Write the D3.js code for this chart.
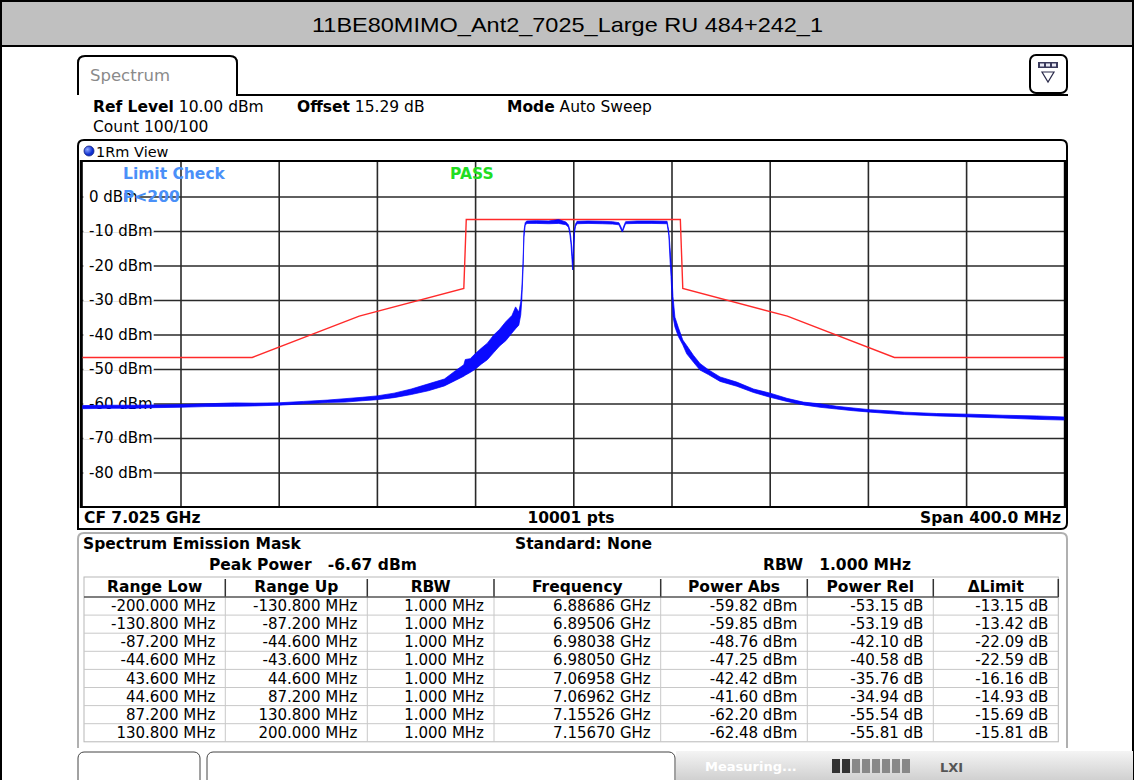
<!DOCTYPE html>
<html>
<head>
<meta charset="utf-8">
<script src="https://cdn.jsdelivr.net/npm/d3@7"></script>
<style>
  html, body { margin: 0; padding: 0; background: #fff; }
  svg { display: block; }
  text { font-family: "DejaVu Sans", Verdana, sans-serif; }
</style>
</head>
<body>
<svg id="chart" width="1134" height="780"></svg>
<script>
// ---- Measurement data ----------------------------------------------------
const title = "11BE80MIMO_Ant2_7025_Large RU 484+242_1";

// y grid labels (dBm)
const levelTicks = [0, -10, -20, -30, -40, -50, -60, -70, -80];
// x grid positions, offset from the 7.025 GHz centre (MHz)
const offsetTicks = [-160, -120, -80, -40, 0, 40, 80, 120, 160];

// emission mask limit line
const limitOffsets = [-200, -130.8, -87.2, -44.6, -43.6, 43.6, 44.6, 87.2, 130.8, 200];
const limitLevels  = [-46.67, -46.67, -34.67, -26.67, -6.67, -6.67, -26.67, -34.67, -46.67, -46.67];

// measured trace (noise envelope, min / max per frequency)
const traceOffsets = [
  -200, -190, -180, -170, -160, -150, -138, -130, -120, -110, -100, -93, -86, -80, -73, -66,
  -59, -52.5, -48, -44.6, -44, -42, -40, -37.5, -35, -32.5, -30, -27.5, -25, -23.5, -22.2,
  -21.4, -21.0, -20.5, -20.1, -19.6, -19.0, -15, -10, -6, -3, -2.0, -1.5, -1.0, -0.6, -0.3,
  0.1, 0.5, 0.9, 1.5, 6, 12, 16, 18.6, 19.4, 20.0, 20.6, 21.3, 26, 32, 38.2, 38.9, 39.4,
  39.8, 40.2, 40.6, 41.4, 42.8, 44.6, 46.2, 48.9, 51.6, 55, 59.8, 66.6, 73.4, 80.2, 87,
  93.7, 100.5, 107.3, 114, 121, 130.3, 135, 148, 161.6, 175, 188.8, 200
];
const traceLow = [
  -61.5, -61.4, -61.4, -61.2, -61.1, -60.9, -60.8, -60.7, -60.5, -60.1, -59.7, -59.6, -59.2, -58.9, -58.3, -57.4,
  -56.3, -54.9, -53.3, -52.1, -51.8, -51.0, -50.1, -48.6, -47.3, -45.3, -43.3, -41.8, -39.6, -38.3, -37.3,
  -34.3, -30.3, -21.8, -11.8, -8.4, -7.8, -7.8, -7.9, -7.8, -8.2, -8.9, -10.4, -13.4, -17.4, -21.3,
  -16.3, -10.6, -8.7, -7.9, -7.8, -7.9, -8.0, -8.2, -9.5, -10.3, -9.2, -7.9, -7.8, -7.8, -7.9, -11.3, -18.4,
  -23.2, -29.0, -34.8, -37.8, -40.6, -43.0, -45.6, -48.0, -50.3, -51.6, -53.6, -55.0, -56.8, -58.2, -59.4,
  -60.4, -61.1, -61.6, -62.1, -62.5, -63.0, -63.2, -63.6, -63.9, -64.2, -64.6, -64.8
];
const traceHigh = [
  -60.6, -60.5, -60.5, -60.4, -60.3, -60.1, -59.82, -59.9, -59.8, -59.4, -59.0, -58.6, -58.2, -57.8, -57.0, -55.8,
  -54.3, -52.9, -50.5, -48.76, -47.25, -47.0, -45.6, -44.0, -42.5, -40.2, -38.5, -36.3, -34.5, -32.0, -33.5,
  -30.5, -27.0, -19.5, -10.0, -7.6, -7.1, -7.0, -7.1, -6.67, -7.4, -8.2, -9.4, -11.8, -15.0, -18.8,
  -13.5, -9.3, -8.0, -7.2, -7.1, -7.2, -7.3, -7.6, -8.8, -9.8, -8.5, -7.3, -7.1, -7.1, -7.2, -10.0, -14.7,
  -18.6, -23.4, -29.0, -35.0, -38.0, -41.6, -43.2, -46.0, -48.4, -50.2, -52.3, -53.8, -55.8, -57.0, -58.5,
  -59.6, -60.1, -60.8, -61.3, -61.8, -62.2, -62.5, -62.9, -63.1, -63.4, -63.6, -63.9
];

// result table
const tableHeaders = ["Range Low", "Range Up", "RBW", "Frequency", "Power Abs", "Power Rel", "\u0394Limit"];
const rangeLow   = ["-200.000 MHz", "-130.800 MHz", "-87.200 MHz", "-44.600 MHz", "43.600 MHz", "44.600 MHz", "87.200 MHz", "130.800 MHz"];
const rangeUp    = ["-130.800 MHz", "-87.200 MHz", "-44.600 MHz", "-43.600 MHz", "44.600 MHz", "87.200 MHz", "130.800 MHz", "200.000 MHz"];
const rbw        = ["1.000 MHz", "1.000 MHz", "1.000 MHz", "1.000 MHz", "1.000 MHz", "1.000 MHz", "1.000 MHz", "1.000 MHz"];
const frequency  = ["6.88686 GHz", "6.89506 GHz", "6.98038 GHz", "6.98050 GHz", "7.06958 GHz", "7.06962 GHz", "7.15526 GHz", "7.15670 GHz"];
const powerAbs   = ["-59.82 dBm", "-59.85 dBm", "-48.76 dBm", "-47.25 dBm", "-42.42 dBm", "-41.60 dBm", "-62.20 dBm", "-62.48 dBm"];
const powerRel   = ["-53.15 dB", "-53.19 dB", "-42.10 dB", "-40.58 dB", "-35.76 dB", "-34.94 dB", "-55.54 dB", "-55.81 dB"];
const deltaLimit = ["-13.15 dB", "-13.42 dB", "-22.09 dB", "-22.59 dB", "-16.16 dB", "-14.93 dB", "-15.69 dB", "-15.81 dB"];

// ---- Drawing ---------------------------------------------------------------
const W = 1134, H = 780;
const svg = d3.select("#chart");
const FONT = 15.5;
const defs = svg.append("defs");

// page frame + title bar
svg.append("rect").attr("x", 0).attr("y", 0).attr("width", W).attr("height", H).attr("fill", "#fff");
svg.append("rect").attr("x", 1).attr("y", 1).attr("width", W - 2).attr("height", 45)
  .attr("fill", "#c0c0c0").attr("stroke", "#000").attr("stroke-width", 2);
svg.append("line").attr("x1", 1).attr("x2", 1).attr("y1", 0).attr("y2", H).attr("stroke", "#000").attr("stroke-width", 2);
svg.append("line").attr("x1", W - 1).attr("x2", W - 1).attr("y1", 0).attr("y2", H).attr("stroke", "#000").attr("stroke-width", 2);
svg.append("text").attr("x", 312).attr("y", 32)
  .attr("textLength", 511).attr("lengthAdjust", "spacingAndGlyphs")
  .style("font-family", "'Liberation Sans', Arial, sans-serif").style("font-size", "21px")
  .text(title);

// "Spectrum" tab
svg.append("path")
  .attr("d", "M78,95 L78,63 Q78,56 85,56 L230,56 Q237,56 237,63 L237,95 L1068,95")
  .attr("fill", "none").attr("stroke", "#000").attr("stroke-width", 2);
svg.append("text").attr("x", 90).attr("y", 81).attr("fill", "#8a8a8a")
  .style("font-size", "16.5px").text("Spectrum");

// view selector button
const btn = svg.append("g");
btn.append("rect").attr("x", 1030).attr("y", 55).attr("width", 37).attr("height", 38).attr("rx", 6)
  .attr("fill", "#fff").attr("stroke", "#000").attr("stroke-width", 2);
btn.append("rect").attr("x", 1038).attr("y", 62).attr("width", 20).attr("height", 6).attr("fill", "#3a3a5c");
[1040, 1046, 1052].forEach(bx => btn.append("rect").attr("x", bx).attr("y", 63.5).attr("width", 4).attr("height", 3).attr("fill", "#e8e8f4"));
btn.append("path").attr("d", "M1042,72 L1054,72 L1048,82 Z").attr("fill", "none").attr("stroke", "#2a2a4a").attr("stroke-width", 1.2);

// settings lines
function runs(g, x, y, parts) {
  const t = g.append("text").attr("x", x).attr("y", y).style("font-size", FONT + "px");
  parts.forEach(p => t.append("tspan").style("font-weight", p[1] ? "bold" : "normal").text(p[0]));
  return t;
}
runs(svg, 93, 112, [["Ref Level", true], ["\u00a010.00 dBm", false]]);
runs(svg, 297, 112, [["Offset", true], ["\u00a015.29 dB", false]]);
runs(svg, 507, 112, [["Mode", true], ["\u00a0Auto Sweep", false]]);
runs(svg, 93, 132, [["Count 100/100", false]]);

// diagram window
const plotL = 82.3, plotR = 1064.3, plotT = 162, plotB = 507;
const x = d3.scaleLinear().domain([-200, 200]).range([plotL, plotR]);
const y = d3.scaleLinear().domain([-90, 10]).range([plotB, plotT]);

svg.append("path")
  .attr("d", `M78,529 L78,146 Q78,140 84,140 L1061,140 Q1067,140 1067,146 L1067,523 Q1067,529 1061,529 Z`)
  .attr("fill", "#fff").attr("stroke", "#000").attr("stroke-width", 2);

// view title
const dot = defs.append("radialGradient").attr("id", "dotGrad").attr("cx", "35%").attr("cy", "35%");
dot.append("stop").attr("offset", "0%").attr("stop-color", "#8fa8ff");
dot.append("stop").attr("offset", "100%").attr("stop-color", "#1030d0");
svg.append("circle").attr("cx", 89).attr("cy", 151).attr("r", 5).attr("fill", "url(#dotGrad)").attr("stroke", "#102080").attr("stroke-width", 0.8);
svg.append("text").attr("x", 96).attr("y", 156.5).style("font-size", "14.5px").text("1Rm View");

// grid via d3 axes
const grid = svg.append("g");
grid.append("g").attr("transform", `translate(0,${plotB})`)
  .call(d3.axisBottom(x).tickValues(offsetTicks).tickSize(-(plotB - plotT)).tickFormat(""))
  .call(g => g.select(".domain").remove())
  .call(g => g.selectAll("line").attr("stroke", "#2a2a2a").attr("stroke-width", 1.6));
grid.append("g").attr("transform", `translate(${plotL},0)`)
  .call(d3.axisLeft(y).tickValues(levelTicks).tickSize(-(plotR - plotL)).tickFormat(""))
  .call(g => g.select(".domain").remove())
  .call(g => g.selectAll("line").attr("stroke", "#2a2a2a").attr("stroke-width", 1.6));

// level labels with white backing
const lab = svg.append("g");
levelTicks.forEach(v => {
  const t = lab.append("text").attr("x", 89).attr("y", y(v)).attr("dy", "0.36em")
    .style("font-size", "15px").text(`${v} dBm`);
  const bb = t.node().getBBox();
  lab.insert("rect", "text").attr("x", plotL + 1).attr("y", y(v) - 1.5)
    .attr("width", bb.x + bb.width - plotL).attr("height", 3).attr("fill", "#fff");
});

// plot frame
svg.append("line").attr("x1", plotL - 1).attr("x2", plotR + 1).attr("y1", plotT - 1).attr("y2", plotT - 1).attr("stroke", "#000").attr("stroke-width", 2);
svg.append("line").attr("x1", plotL - 1).attr("x2", plotR + 1).attr("y1", plotB).attr("y2", plotB).attr("stroke", "#000").attr("stroke-width", 2);
svg.append("line").attr("x1", plotL - 1).attr("x2", plotL - 1).attr("y1", plotT - 2).attr("y2", plotB + 1).attr("stroke", "#000").attr("stroke-width", 3);
svg.append("line").attr("x1", plotR + 1).attr("x2", plotR + 1).attr("y1", plotT - 2).attr("y2", plotB + 1).attr("stroke", "#000").attr("stroke-width", 3);

// limit check status
svg.append("text").attr("x", 123).attr("y", 179).attr("fill", "#4a90f8").style("font-weight", "bold").style("font-size", FONT + "px").text("Limit Check");
svg.append("text").attr("x", 450).attr("y", 179).attr("fill", "#22dd22").style("font-weight", "bold").style("font-size", FONT + "px").text("PASS");

// limit line
const clip = defs.append("clipPath").attr("id", "plotClip");
clip.append("rect").attr("x", plotL).attr("y", plotT).attr("width", plotR - plotL).attr("height", plotB - plotT);
const plot = svg.append("g").attr("clip-path", "url(#plotClip)");

plot.append("path")
  .datum(limitOffsets.map((f, i) => [f, limitLevels[i]]))
  .attr("d", d3.line().x(d => x(d[0])).y(d => y(d[1])))
  .attr("fill", "none").attr("stroke", "#ff2a2a").attr("stroke-width", 1.4);

// trace
const trace = traceOffsets.map((f, i) => ({ f, lo: traceLow[i], hi: traceHigh[i] }));
plot.append("path").datum(trace)
  .attr("d", d3.area().x(d => x(d.f)).y0(d => y(d.lo)).y1(d => y(d.hi)))
  .attr("fill", "#0a0aff").attr("stroke", "#0000ff").attr("stroke-width", 0.7).attr("stroke-linejoin", "round");

svg.append("text").attr("x", 123).attr("y", y(0)).attr("dy", "0.36em").attr("fill", "#4a90f8")
  .style("font-weight", "bold").style("font-size", FONT + "px").text("P<200");

// footer of diagram
svg.append("text").attr("x", 84).attr("y", 523).style("font-weight", "bold").style("font-size", FONT + "px").text("CF 7.025 GHz");
svg.append("text").attr("x", 571).attr("y", 523).attr("text-anchor", "middle").style("font-weight", "bold").style("font-size", FONT + "px").text("10001 pts");
svg.append("text").attr("x", 1061).attr("y", 523).attr("text-anchor", "end").style("font-weight", "bold").style("font-size", FONT + "px").text("Span 400.0 MHz");

// result panel
svg.append("path")
  .attr("d", `M78,748 L78,539 Q78,533 84,533 L1061,533 Q1067,533 1067,539 L1067,748`)
  .attr("fill", "#fff").attr("stroke", "#b0b0b0").attr("stroke-width", 2);
svg.append("text").attr("x", 83).attr("y", 549).style("font-weight", "bold").style("font-size", FONT + "px").text("Spectrum Emission Mask");
svg.append("text").attr("x", 515).attr("y", 549).style("font-weight", "bold").style("font-size", FONT + "px").text("Standard: None");
svg.append("text").attr("x", 209).attr("y", 570).style("font-weight", "bold").style("font-size", FONT + "px").text("Peak Power\u00a0\u00a0\u00a0-6.67 dBm");
svg.append("text").attr("x", 763).attr("y", 570).style("font-weight", "bold").style("font-size", FONT + "px").text("RBW\u00a0\u00a0\u00a01.000 MHz");

const colEdges = [84, 225.3, 367.3, 494, 660.7, 807.3, 933.3, 1058.3];
const columns = [rangeLow, rangeUp, rbw, frequency, powerAbs, powerRel, deltaLimit];
const headTop = 577, headBot = 597, rowH = 18.1;
const tbl = svg.append("g");
tbl.append("rect").attr("x", colEdges[0]).attr("y", headTop).attr("width", colEdges[7] - colEdges[0])
  .attr("height", headBot - headTop + rowH * 8).attr("fill", "#fff").attr("stroke", "#b8b8b8").attr("stroke-width", 1);
// row rules
d3.range(1, 8).forEach(r => tbl.append("line").attr("x1", colEdges[0]).attr("x2", colEdges[7])
  .attr("y1", headBot + r * rowH).attr("y2", headBot + r * rowH).attr("stroke", "#c8c8c8").attr("stroke-width", 1));
// column rules
colEdges.slice(1, 7).forEach(cx => {
  tbl.append("line").attr("x1", cx).attr("x2", cx).attr("y1", headBot).attr("y2", headBot + rowH * 8).attr("stroke", "#c8c8c8");
  tbl.append("line").attr("x1", cx).attr("x2", cx).attr("y1", headTop + 2).attr("y2", headBot).attr("stroke", "#333").attr("stroke-width", 1.5);
});
tbl.append("line").attr("x1", colEdges[7]).attr("x2", colEdges[7]).attr("y1", headTop + 2).attr("y2", headBot).attr("stroke", "#333").attr("stroke-width", 1.5);
tbl.append("line").attr("x1", colEdges[0]).attr("x2", colEdges[7]).attr("y1", headBot).attr("y2", headBot).attr("stroke", "#555").attr("stroke-width", 1.5);
tableHeaders.forEach((h, i) => tbl.append("text").attr("x", (colEdges[i] + colEdges[i + 1]) / 2).attr("y", headBot - 5)
  .attr("text-anchor", "middle").style("font-weight", "bold").style("font-size", FONT + "px").text(h));
columns.forEach((col, i) => col.forEach((v, r) => tbl.append("text")
  .attr("x", colEdges[i + 1] - 10).attr("y", headBot + (r + 1) * rowH - 4)
  .attr("text-anchor", "end").style("font-size", "15px").text(v)));

// status bar
const sb = svg.append("g");
const sbGrad = defs.append("linearGradient").attr("id", "sbGrad").attr("x1", 0).attr("x2", 0).attr("y1", 0).attr("y2", 1);
sbGrad.append("stop").attr("offset", "0%").attr("stop-color", "#f4f4f4");
sbGrad.append("stop").attr("offset", "100%").attr("stop-color", "#cfcfcf");
sb.append("rect").attr("x", 676).attr("y", 751).attr("width", W - 677).attr("height", 30).attr("fill", "url(#sbGrad)");
sb.append("rect").attr("x", 78).attr("y", 752).attr("width", 122).attr("height", 36).attr("rx", 6).attr("fill", "#fff").attr("stroke", "#444");
sb.append("rect").attr("x", 207).attr("y", 752).attr("width", 468).attr("height", 36).attr("rx", 6).attr("fill", "#fff").attr("stroke", "#444");
sb.append("text").attr("x", 705).attr("y", 771).attr("fill", "#fff").style("font-size", "13px").style("font-weight", "bold").text("Measuring...");
d3.range(8).forEach(i => sb.append("rect").attr("x", 832 + i * 10).attr("y", 759).attr("width", 8).attr("height", 14)
  .attr("fill", i < 2 ? "#333" : "#888"));
sb.append("text").attr("x", 940).attr("y", 772).attr("fill", "#555").style("font-size", "13px").style("font-weight", "bold").text("LXI");
</script>
</body>
</html>
